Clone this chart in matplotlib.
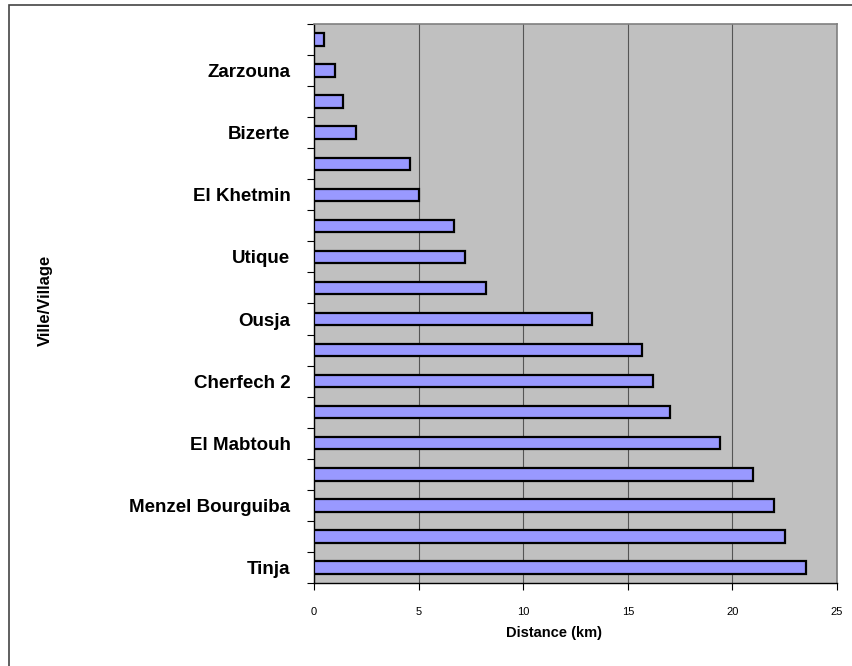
import numpy as np
import matplotlib.pyplot as plt
from matplotlib.patches import Rectangle

# Villes / villages, de haut en bas (les noms intermédiaires ne sont pas affichés)
villes = ['', 'Zarzouna', '', 'Bizerte', '', 'El Khetmin', '', 'Utique', '',
          'Ousja', '', 'Cherfech 2', '', 'El Mabtouh', '', 'Menzel Bourguiba',
          '', 'Tinja']
distances = [0.5, 1.0, 1.4, 2.0, 4.6, 5.0, 6.7, 7.2, 8.2,
             13.3, 15.7, 16.2, 17.0, 19.4, 21.0, 22.0, 22.5, 23.5]

plt.rcParams['font.family'] = ['Liberation Sans', 'DejaVu Sans']

fig = plt.figure(figsize=(8.52, 6.66), dpi=100)
ax = fig.add_axes([314 / 852, 1 - 583 / 666, (837 - 314) / 852, (583 - 24) / 666])

# cadre extérieur
fig.patches.append(Rectangle((9 / 852, -0.1), 1.0, 1 - 5 / 666 + 0.1,
                             transform=fig.transFigure, fill=False,
                             edgecolor='#444444', linewidth=1.2))

n = len(villes)
y = np.arange(n)[::-1]
ax.set_facecolor('#c0c0c0')
ax.barh(y, distances, height=0.4, color='#9999ff', edgecolor='black',
        linewidth=1.6, zorder=3)

ax.set_xlim(0, 25)
ax.set_ylim(-0.5, n - 0.5)
ax.set_xticks([0, 5, 10, 15, 20, 25])
ax.grid(axis='x', color='#555555', linewidth=0.8, zorder=1)

ax.set_yticks(y)
ax.set_yticklabels(villes, fontsize=13.5, fontweight='bold')
ax.set_yticks(np.arange(-0.5, n, 1.0), minor=True)
ax.tick_params(axis='y', which='major', length=0, pad=17)
ax.tick_params(axis='y', which='minor', length=5, width=0.8)
ax.tick_params(axis='x', length=5, width=0.8, labelsize=8, pad=12)

for s in ['top', 'right']:
    ax.spines[s].set_color('#808080')
    ax.spines[s].set_linewidth(1.2)
for s in ['left', 'bottom']:
    ax.spines[s].set_color('black')
    ax.spines[s].set_linewidth(1.0)

fig.text(554 / 852, 1 - 633 / 666, 'Distance (km)', fontsize=10.5,
         fontweight='bold', ha='center', va='center')
fig.text(45 / 852, 1 - 300 / 666, 'Ville/Village', rotation=90, fontsize=12,
         fontweight='bold', ha='center', va='center')

fig.savefig('out.png', dpi=100)
